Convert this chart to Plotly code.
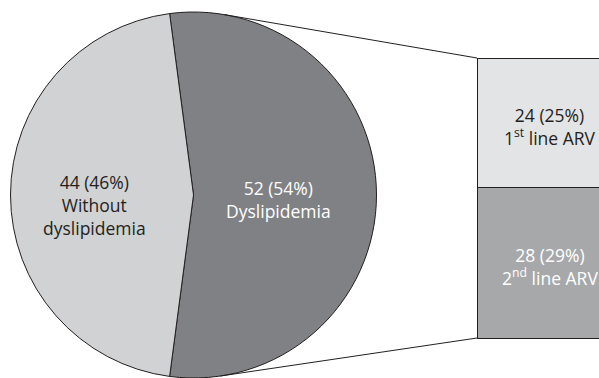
import math
import plotly.graph_objects as go

# Figure size in pixels
W, H = 599, 378

# Pie: patients with / without dyslipidemia
pie_labels = ["Dyslipidemia", "Without<br>dyslipidemia"]
pie_values = [52, 44]
pie_colors = ["#808184", "#d1d2d4"]
pie_text_colors = ["#ffffff", "#231f20"]

# Breakdown of the dyslipidemia group by ARV line (top to bottom)
arv_labels = ["1<sup>st</sup> line ARV", "2<sup>nd</sup> line ARV"]
arv_values = [24, 28]
arv_colors = ["#e3e4e5", "#a7a8aa"]
arv_text_colors = ["#231f20", "#ffffff"]

total = sum(pie_values)
edge = "#231f20"
font_family = "Open Sans"
font_size = 17.5


def label(v, name):
    return f"{v} ({round(100 * v / total)}%)<br>{name}"


# Pie geometry (pixels, y measured from the top)
R = 183.0
cx, cy = 193.5, H - R
pie_dom_x = [(cx - R) / W, (cx + R) / W]
pie_dom_y = [(H - cy - R) / H, (H - cy + R) / H]
# centre the dyslipidemia slice on 3 o'clock
rotation = 90 - 180 * pie_values[0] / total

# Stacked bar geometry (pixels)
bar_left, bar_width = 477.0, 146.0
bar_top, bar_bottom = 58.0, 338.0
ax_left = 465.0
x_range = [-0.5 - (bar_left - ax_left) / bar_width,
           -0.5 + (W - bar_left) / bar_width]
px_per_unit = (bar_bottom - bar_top) / sum(arv_values)
y_range = [-(H - bar_bottom) / px_per_unit, bar_bottom / px_per_unit]

fig = go.Figure()

fig.add_trace(go.Pie(
    values=pie_values,
    labels=pie_labels,
    sort=False,
    direction="clockwise",
    rotation=rotation,
    marker=dict(colors=pie_colors, line=dict(color=edge, width=1)),
    textinfo="none",
    hoverinfo="skip",
    showlegend=False,
    domain=dict(x=pie_dom_x, y=pie_dom_y),
))

annotations = []

# stack from the bottom up, so the first ARV line ends on top
base = 0.0
for v, name, col, tcol in reversed(list(zip(arv_values, arv_labels, arv_colors, arv_text_colors))):
    fig.add_trace(go.Bar(
        x=[0], y=[v], width=1,
        marker=dict(color=col, line=dict(color=edge, width=1)),
        hoverinfo="skip",
        showlegend=False,
    ))
    annotations.append(dict(
        x=0, y=base + v / 2, xref="x", yref="y", yshift=-4,
        text=label(v, name), showarrow=False,
        xanchor="center", yanchor="middle",
        font=dict(family=font_family, size=font_size, color=tcol),
    ))
    base += v


def to_paper(px, py):
    return px / W, 1 - py / H


def tangent_point(p, pick_lower):
    dx, dy = p[0] - cx, p[1] - cy
    dist = math.hypot(dx, dy)
    phi = math.atan2(dy, dx)
    a = math.acos(R / dist)
    pts = [(cx + R * math.cos(phi + s * a), cy + R * math.sin(phi + s * a)) for s in (-1, 1)]
    return max(pts, key=lambda q: q[1]) if pick_lower else min(pts, key=lambda q: q[1])


shapes = []
for corner, lower in (((bar_left, bar_top), False), ((bar_left, bar_bottom), True)):
    t = tangent_point(corner, lower)
    x0, y0 = to_paper(*t)
    x1, y1 = to_paper(*corner)
    shapes.append(dict(type="line", xref="paper", yref="paper",
                       x0=x0, y0=y0, x1=x1, y1=y1,
                       line=dict(color=edge, width=1)))

# Slice labels
pie_label_pos = [(278.0, 199.5), (94.0, 205.5)]
for v, name, tcol, (px, py) in zip(pie_values, pie_labels, pie_text_colors, pie_label_pos):
    ax_, ay_ = to_paper(px, py)
    annotations.append(dict(
        x=ax_, y=ay_, xref="paper", yref="paper",
        text=label(v, name), showarrow=False,
        xanchor="center", yanchor="middle",
        font=dict(family=font_family, size=font_size, color=tcol),
    ))

fig.update_layout(
    width=W, height=H, autosize=False,
    margin=dict(l=0, r=0, t=0, b=0, pad=0),
    paper_bgcolor="white", plot_bgcolor="rgba(0,0,0,0)",
    barmode="stack",
    xaxis=dict(domain=[ax_left / W, 1], range=x_range, visible=False, fixedrange=True),
    yaxis=dict(domain=[0, 1], range=y_range, visible=False, fixedrange=True),
    shapes=shapes,
    annotations=annotations,
    font=dict(family=font_family, size=font_size),
)

fig.write_html("out.html", config={"displayModeBar": False})
